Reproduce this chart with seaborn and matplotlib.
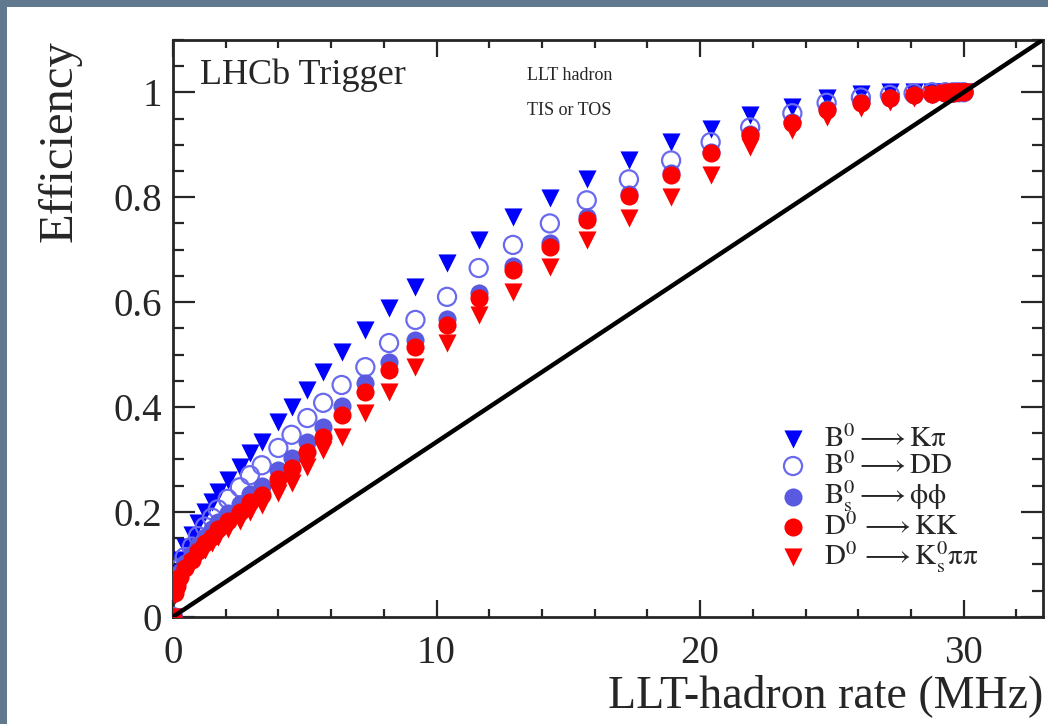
import numpy as np
import pandas as pd
import seaborn as sns
import matplotlib
matplotlib.use('Agg')
import matplotlib.pyplot as plt
from matplotlib.patches import Rectangle
from matplotlib.ticker import MultipleLocator, FuncFormatter

# LLT hadron rate (MHz), shared by all channels
rate = [0, 0.08, 0.15, 0.27, 0.45, 0.72, 0.95, 1.21, 1.48, 1.70,
        2.08, 2.54, 2.92, 3.37, 4.0, 4.5, 5.1, 5.7, 6.4, 7.3,
        8.2, 9.2, 10.4, 11.6, 12.9, 14.3, 15.7, 17.3, 18.9, 20.4,
        21.9, 23.5, 24.8, 26.1, 27.2, 28.1, 28.8, 29.3, 29.6, 29.8, 30.0]

eff_kpi = [0, 0.065, 0.084, 0.109, 0.133, 0.156, 0.179, 0.200, 0.219, 0.238,
           0.261, 0.286, 0.312, 0.333, 0.371, 0.400, 0.432, 0.467, 0.505, 0.547,
           0.589, 0.629, 0.674, 0.718, 0.762, 0.798, 0.834, 0.870, 0.905, 0.930,
           0.956, 0.971, 0.989, 0.997, 1.0, 1.0, 1.0, 1.0, 1.0, 1.0, 1.0]
eff_dd = [0, 0.055, 0.072, 0.093, 0.114, 0.134, 0.154, 0.172, 0.189, 0.205,
          0.225, 0.247, 0.270, 0.289, 0.322, 0.347, 0.379, 0.408, 0.442, 0.476,
          0.522, 0.566, 0.610, 0.665, 0.709, 0.750, 0.794, 0.834, 0.870, 0.905,
          0.933, 0.960, 0.980, 0.990, 0.995, 0.998, 1.0, 1.0, 1.0, 1.0, 1.0]
eff_phiphi = [0, 0.052, 0.067, 0.085, 0.103, 0.120, 0.137, 0.153, 0.167, 0.181,
              0.198, 0.216, 0.234, 0.250, 0.279, 0.303, 0.333, 0.361, 0.402, 0.445,
              0.485, 0.527, 0.568, 0.618, 0.669, 0.712, 0.762, 0.806, 0.846, 0.887,
              0.921, 0.944, 0.968, 0.981, 0.990, 0.995, 0.997, 0.998, 0.999, 1.0, 1.0]
eff_kk = [0, 0.045, 0.059, 0.076, 0.093, 0.109, 0.125, 0.140, 0.153, 0.167,
          0.183, 0.200, 0.218, 0.233, 0.262, 0.284, 0.314, 0.343, 0.385, 0.429,
          0.470, 0.514, 0.556, 0.608, 0.661, 0.705, 0.756, 0.802, 0.842, 0.884,
          0.918, 0.941, 0.966, 0.979, 0.989, 0.994, 0.997, 0.998, 0.999, 1.0, 1.0]
eff_kspipi = [0, 0.042, 0.054, 0.070, 0.085, 0.100, 0.115, 0.128, 0.140, 0.152,
              0.167, 0.183, 0.200, 0.213, 0.237, 0.255, 0.286, 0.318, 0.343, 0.389,
              0.429, 0.476, 0.522, 0.575, 0.619, 0.667, 0.718, 0.760, 0.800, 0.842,
              0.895, 0.928, 0.952, 0.970, 0.981, 0.990, 0.995, 0.998, 1.0, 1.0, 1.0]

labels = [r'$\mathrm{B^0 \longrightarrow K\pi}$',
          r'$\mathrm{B^0 \longrightarrow DD}$',
          r'$\mathrm{B_s^0 \longrightarrow \phi\phi}$',
          r'$\mathrm{D^0\, \longrightarrow KK}$',
          r'$\mathrm{D^0\, \longrightarrow K_s^0\pi\pi}$']

# diagonal reference (efficiency = rate / 30 MHz)
diag_x = [0, 33]
diag_y = [0, 1.1]

series = [eff_kpi, eff_dd, eff_phiphi, eff_kk, eff_kspipi]
colors = ['#0000ff', '#6a6af0', '#5a5ae0', '#ff0000', '#ff0000']
markers = ['v', 'o', 'o', 'o', 'v']
hollow = [False, True, False, False, False]

sns.set_style('ticks')
plt.rcParams['font.family'] = ['Liberation Serif', 'DejaVu Serif']
plt.rcParams['mathtext.fontset'] = 'stix'

fig = plt.figure(figsize=(10.48, 7.24), dpi=100)
fig.patch.set_facecolor('#61798f')
fig.add_artist(Rectangle((7 / 1048, 0), 1, 1 - 7 / 724, transform=fig.transFigure,
                         facecolor='white', edgecolor='none', zorder=-5))
ax = fig.add_axes([0.165, 0.148, 0.830, 0.797])

for vals, lab, col, mk, hol in zip(series, labels, colors, markers, hollow):
    df = pd.DataFrame({'rate': rate, 'eff': vals})
    sns.scatterplot(data=df, x='rate', y='eff', ax=ax, marker=mk, s=170,
                    color=col, linewidth=0, label=lab, zorder=3)
    if hol:
        pts = ax.collections[-1]
        pts.set_facecolor('none')
        pts.set_edgecolor(col)
        pts.set_linewidth(1.6)

sns.lineplot(x=diag_x, y=diag_y, ax=ax, color='black', linewidth=3.2, zorder=4)

ax.set_xlim(0, 33)
ax.set_ylim(0, 1.1)
ax.xaxis.set_major_locator(MultipleLocator(10))
ax.xaxis.set_minor_locator(MultipleLocator(2))
ax.yaxis.set_major_locator(MultipleLocator(0.2))
ax.yaxis.set_minor_locator(MultipleLocator(0.05))
ax.yaxis.set_major_formatter(FuncFormatter(lambda v, p: '%g' % round(v, 2)))
ax.tick_params(axis='both', which='both', direction='in', top=True, right=True,
               width=1.6, labelsize=28)
ax.tick_params(axis='x', which='major', length=12, pad=13)
ax.tick_params(axis='x', which='minor', length=6)
ax.tick_params(axis='y', which='major', length=16, pad=8)
ax.tick_params(axis='y', which='minor', length=8)
for sp in ax.spines.values():
    sp.set_linewidth(2)

ax.set_xlabel('LLT-hadron rate (MHz)', fontsize=33, loc='right')
ax.set_ylabel('Efficiency', fontsize=35, loc='top')
ax.xaxis.set_label_coords(1.0, -0.1)
ax.yaxis.set_label_coords(-0.105, 1.0)

ax.text(0.031, 0.939, 'LHCb Trigger', transform=ax.transAxes, fontsize=26, va='center')
ax.text(0.407, 0.939, 'LLT hadron', transform=ax.transAxes, fontsize=13, va='center')
ax.text(0.407, 0.877, 'TIS or TOS', transform=ax.transAxes, fontsize=13, va='center')

ax.legend(loc='upper left', bbox_to_anchor=(0.676, 0.357), frameon=False,
          fontsize=21, labelspacing=-0.04, handletextpad=0.45, borderpad=0,
          handlelength=1.2)

fig.savefig('out.png', dpi=100)
